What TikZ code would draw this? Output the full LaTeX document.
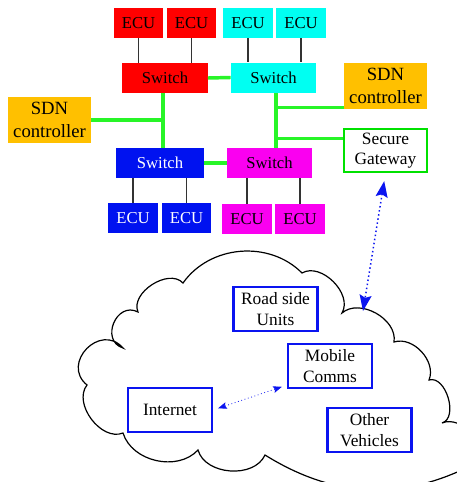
\documentclass[tikz,border=0pt]{standalone}
\usepackage{fontspec}
\setmainfont{Liberation Serif}
\usetikzlibrary{arrows.meta}
\definecolor{ecured}{RGB}{255,0,0}
\definecolor{ecucyan}{RGB}{0,255,242}
\definecolor{ecublue}{RGB}{0,18,240}
\definecolor{ecumag}{RGB}{250,0,240}
\definecolor{sdnorange}{RGB}{255,192,0}
\definecolor{busgreen}{RGB}{40,245,40}
\definecolor{gwgreen}{RGB}{0,225,0}
\definecolor{linkblue}{RGB}{10,20,240}

\begin{document}
\begin{tikzpicture}[x=0.75pt, y=-0.75pt,
  ecu/.style={inner sep=0pt, minimum width=37pt, minimum height=22.5pt, font=\fontsize{12.5}{14}\selectfont},
  switchbox/.style={inner sep=0pt, minimum width=64pt, minimum height=22.5pt, font=\fontsize{12.5}{14}\selectfont},
  sdn/.style={fill=sdnorange, inner sep=0pt, minimum width=62pt, minimum height=34.5pt, align=center, font=\fontsize{14}{17.5}\selectfont},
  cloudbox/.style={draw=linkblue, line width=1.6pt, fill=white, inner sep=0pt, minimum width=63pt, minimum height=33pt, align=center, font=\fontsize{13}{15.5}\selectfont},
  ecuwire/.style={black!80, line width=0.9pt},
  bus/.style={busgreen, line width=2.6pt},
  cloudline/.style={black, line width=0.9pt},
  garrow/.style={linkblue, dotted, line width=1.1pt, {Stealth[length=12pt, width=9pt, inset=2pt]}-{Stealth[length=12pt, width=9pt, inset=2pt]}},
  iarrow/.style={linkblue, dotted, line width=0.6pt, {Stealth[length=6.5pt, width=5pt, inset=1pt]}-{Stealth[length=6.5pt, width=5pt, inset=1pt]}}]
\useasboundingbox (0,0) rectangle (457,482);

% cloud
\draw [cloudline] (87,385) to [bend left=95, looseness=1.7] (123,348)
  to [bend left=95, looseness=1.6] (138,312)
  to [bend left=80] (183,283)
  to [bend left=50] (302,273)
  to [bend left=75] (342,313)
  to [bend left=70] (394,342)
  to [bend left=65] (429,380)
  to [bend left=90] (442,423)
  to [bend left=70] (478,462)
  to [bend left=30] (265,455)
  to [bend left=70] (198,450)
  to [bend left=60] (123,433)
  to [bend left=75] cycle;
\coordinate (cloudin) at (363,311);

% in-vehicle network
\node [ecu, fill=ecured] (r1) at (138.5,23) {ECU};
\node [ecu, fill=ecured] (r2) at (191.5,23) {ECU};
\node [ecu, fill=ecucyan] (c1) at (248,23) {ECU};
\node [ecu, fill=ecucyan] (c2) at (301,23) {ECU};
\node [switchbox, fill=ecured] (rsw) at (165,78) {Switch};
\node [switchbox, fill=ecucyan] (csw) at (273.5,77.5) {Switch};
\node [switchbox, fill=ecublue, text=white, minimum width=66pt] (bsw) at (160,163) {Switch};
\node [switchbox, fill=ecumag] (msw) at (269.5,163) {Switch};
\node [ecu, fill=ecublue, text=white] (b1) at (133,218) {ECU};
\node [ecu, fill=ecublue, text=white] (b2) at (186.5,218) {ECU};
\node [ecu, fill=ecumag] (m1) at (247,219) {ECU};
\node [ecu, fill=ecumag] (m2) at (300,219) {ECU};
\node [sdn] (sdnl) at (49.5,120) {SDN\\controller};
\node [sdn] (sdnr) at (385.5,86) {SDN\\controller};
\node [draw=gwgreen, line width=1.6pt, fill=white, inner sep=0pt, minimum width=62pt, minimum height=32.5pt, align=center, font=\fontsize{13}{15.5}\selectfont] (gw) at (385.5,150.5) {Secure\\Gateway};

\draw [ecuwire] (r1.south) -- (r1.south |- rsw.north);
\draw [ecuwire] (r2.south) -- (r2.south |- rsw.north);
\draw [ecuwire] (c1.south) -- (c1.south |- csw.north);
\draw [ecuwire] (c2.south) -- (c2.south |- csw.north);
\draw [ecuwire] (b1.north) -- (b1.north |- bsw.south);
\draw [ecuwire] (b2.north) -- (b2.north |- bsw.south);
\draw [ecuwire] (m1.north) -- (m1.north |- msw.south);
\draw [ecuwire] (m2.north) -- (m2.north |- msw.south);

% green buses
\coordinate (lbus) at ([xshift=-1.5pt]rsw.south);
\coordinate (rbus) at ([xshift=2pt]csw.south);
\draw [bus] (rsw.east) -- (csw.west);
\draw [bus] (lbus) -- (lbus |- bsw.north);
\draw [bus] (sdnl.east) -- (sdnl.east -| lbus);
\draw [bus] (bsw.east) -- (msw.west);
\draw [bus] (rbus) -- (rbus |- msw.north);
\draw [bus] ([yshift=1.5pt]sdnr.south west) -- ([yshift=1.5pt]sdnr.south west -| rbus);
\draw [bus] ([yshift=9pt]gw.west) -- ([yshift=9pt]gw.west -| rbus);

% outside world
\node [cloudbox] (rsu) at (275.5,309) {Road side\\Units};
\node [cloudbox] (mob) at (330,366) {Mobile\\Comms};
\node [cloudbox] (inet) at (170,410) {Internet};
\node [cloudbox] (veh) at (369.5,430) {Other\\Vehicles};

\draw [garrow, shorten <=6pt] (gw.south) -- (cloudin);
\draw [iarrow, shorten <=4pt, shorten >=4pt] (inet.east) -- ([yshift=3pt]mob.south west);
\end{tikzpicture}
\end{document}
